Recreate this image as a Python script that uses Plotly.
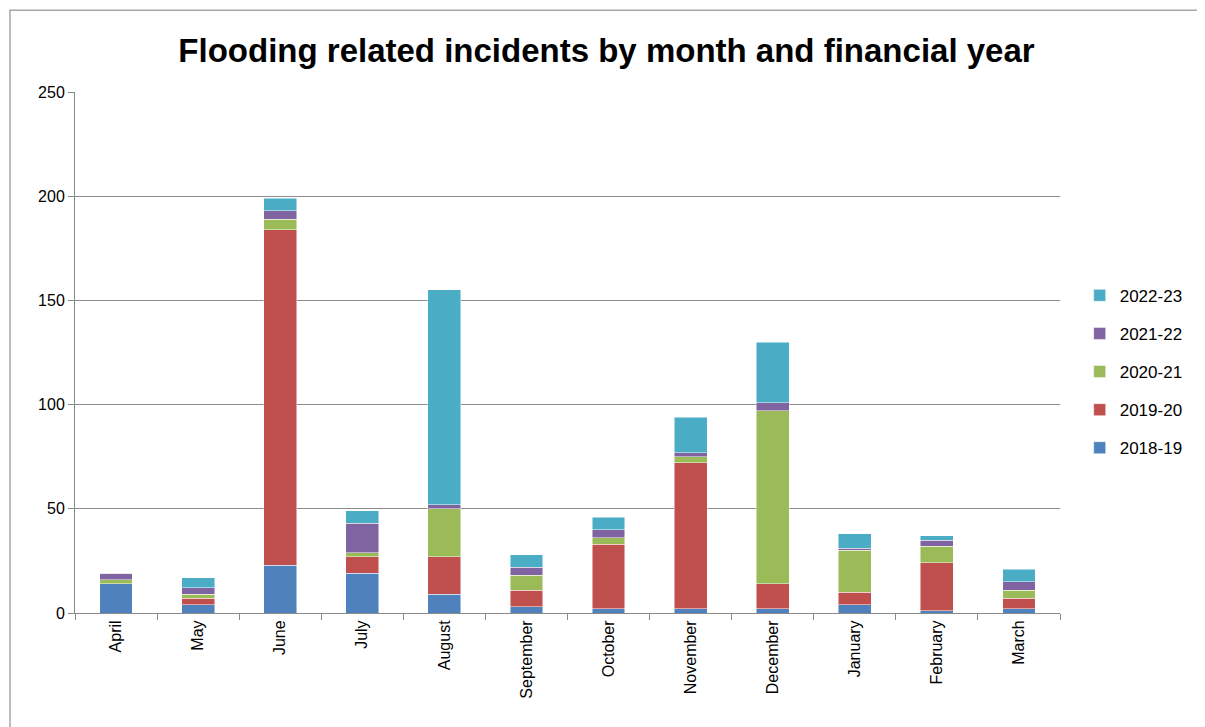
import plotly.graph_objects as go

months = ["April", "May", "June", "July", "August", "September", "October",
          "November", "December", "January", "February", "March"]
fy_2018_19 = [14, 4, 23, 19, 9, 3, 2, 2, 2, 4, 1, 2]
fy_2019_20 = [0, 3, 161, 8, 18, 8, 31, 70, 12, 6, 23, 5]
fy_2020_21 = [2, 2, 5, 2, 23, 7, 3, 3, 83, 20, 8, 4]
fy_2021_22 = [3, 3, 4, 14, 2, 4, 4, 2, 4, 1, 3, 4]
fy_2022_23 = [0, 5, 6, 6, 103, 6, 6, 17, 29, 7, 2, 6]

series = [
    ("2018-19", fy_2018_19, "#4F81BD"),
    ("2019-20", fy_2019_20, "#C0504D"),
    ("2020-21", fy_2020_21, "#9BBB59"),
    ("2021-22", fy_2021_22, "#8064A2"),
    ("2022-23", fy_2022_23, "#4BACC6"),
]

fig = go.Figure()
for i, (name, vals, color) in enumerate(series):
    fig.add_trace(go.Bar(
        x=months, y=vals, name=name, legendgroup=name, legendrank=1000 - i,
        marker=dict(color=color, line=dict(color="rgba(255,255,255,0.6)", width=0.8)),
    ))

font_main = "Liberation Sans, Arial, sans-serif"

fig.update_layout(
    barmode="stack",
    bargap=0.6,
    width=1197, height=719,
    margin=dict(l=67, r=145, t=84, b=114),
    paper_bgcolor="white", plot_bgcolor="white",
    font=dict(family=font_main, size=15, color="#000000"),
    title=dict(text="<b>Flooding related incidents by month and financial year</b>",
               x=0.5, xref="container", xanchor="center",
               y=0.9416, yref="container", yanchor="middle",
               font=dict(family=font_main, size=33, color="#000000")),
    legend=dict(x=1.02, y=0.463, xanchor="left", yanchor="middle",
                traceorder="grouped", tracegroupgap=13,
                font=dict(size=17, family=font_main),
                itemwidth=30),
    xaxis=dict(type="category", tickangle=-90, ticks="outside", tickson="boundaries",
               ticklen=6, tickcolor="#898989", showline=True, linecolor="#898989",
               linewidth=1, showgrid=False,
               tickfont=dict(size=16, family=font_main)),
    yaxis=dict(range=[0, 250], dtick=50, ticks="outside", ticklen=6,
               tickcolor="#898989", showline=True, linecolor="#898989", linewidth=1,
               showgrid=True, gridcolor="#8c8c8c", gridwidth=1, zeroline=False,
               tickfont=dict(size=16, family=font_main)),
    shapes=[dict(type="rect", xref="paper", yref="paper",
                 x0=-0.066, x1=1.142, y0=-0.3, y1=1.157,
                 line=dict(color="#a6a6a6", width=1.5), fillcolor="rgba(0,0,0,0)",
                 layer="below")],
)

fig.write_html("out.html")
